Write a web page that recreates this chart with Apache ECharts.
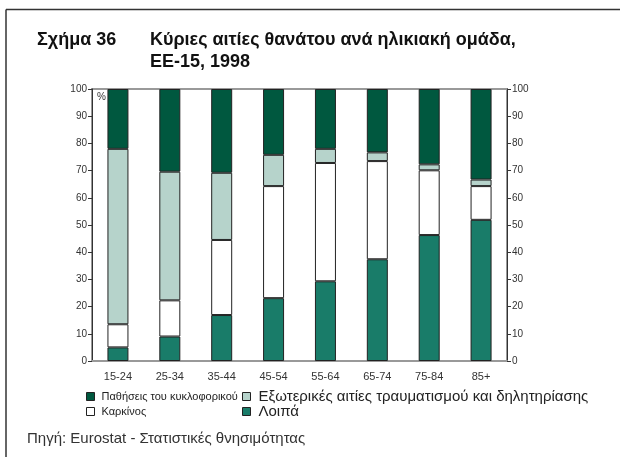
<!DOCTYPE html>
<html>
<head>
<meta charset="utf-8">
<script src="https://cdn.jsdelivr.net/npm/echarts@6/dist/echarts.min.js"></script>
<style>
  html, body { margin: 0; padding: 0; background: #fff; }
  #chart { width: 620px; height: 457px; }
</style>
</head>
<body>
<div id="chart"></div>
<script>
// Age groups on the category axis
const categories = ['15-24', '25-34', '35-44', '45-54', '55-64', '65-74', '75-84', '85+'];

// Share of deaths (%) per cause, stacked from the bottom up
const other       = [5.0, 9.0, 16.9, 23.1, 29.3, 37.4, 46.3, 51.9];   // Λοιπά
const cancer      = [8.5, 13.3, 27.6, 41.2, 43.5, 36.1, 23.8, 12.4];  // Καρκίνος
const external    = [64.5, 47.3, 24.7, 11.5, 5.2, 3.2, 2.2, 2.4];     // Εξωτερικές αιτίες
const circulatory = [22.0, 30.4, 30.8, 24.2, 22.0, 23.3, 27.7, 33.3]; // Παθήσεις του κυκλοφορικού

const names = {
  circ: 'Παθήσεις του κυκλοφορικού',
  ext: 'Εξωτερικές αιτίες τραυματισμού και δηλητηρίασης',
  cancer: 'Καρκίνος',
  other: 'Λοιπά'
};

const narrow = '"Liberation Sans Narrow", "Arial Narrow", "Liberation Sans", sans-serif';
const sans = '"Liberation Sans", Arial, sans-serif';

const chart = echarts.init(document.getElementById('chart'), null, { renderer: 'canvas' });

function yAxis(position) {
  return {
    type: 'value',
    position: position,
    min: 0,
    max: 100,
    interval: 10,
    axisLine: { show: true, lineStyle: { color: '#333', width: 1 } },
    axisTick: { show: true, inside: false, length: 4, lineStyle: { color: '#333' } },
    axisLabel: { fontFamily: sans, fontSize: 10, color: '#333', margin: 5 },
    splitLine: { show: false }
  };
}

function barSeries(name, data, color) {
  return {
    name: name,
    type: 'bar',
    stack: 'total',
    barWidth: 21,
    data: data,
    itemStyle: { color: color, borderColor: '#222', borderWidth: 1 },
    emphasis: { disabled: true }
  };
}

function legendColumn(left, data, family, size, gap) {
  return {
    orient: 'vertical',
    left: left,
    top: 389,
    padding: 0,
    itemWidth: 8,
    itemHeight: 8,
    itemGap: 0,
    icon: 'rect',
    selectedMode: false,
    data: data,
    itemStyle: { borderColor: '#222', borderWidth: 1 },
    textStyle: { fontFamily: family, fontSize: size, lineHeight: 15, color: '#222', padding: [0, 0, 0, gap] }
  };
}

chart.setOption({
  animation: false,
  backgroundColor: '#fff',
  grid: {
    left: 92, right: 113, top: 89, bottom: 96,
    show: true, borderColor: '#999', borderWidth: 2, backgroundColor: 'transparent'
  },
  xAxis: {
    type: 'category',
    data: categories,
    axisLine: { lineStyle: { color: '#999', width: 2 } },
    axisTick: { show: false },
    axisLabel: { fontFamily: narrow, fontSize: 11, color: '#333', margin: 10 }
  },
  yAxis: [yAxis('left'), yAxis('right')],
  legend: [
    legendColumn(86, [names.circ, names.cancer], narrow, 11, 2),
    legendColumn(242, [names.ext, names.other], sans, 15, 3)
  ],
  series: [
    barSeries(names.other, other, '#197c69'),
    barSeries(names.cancer, cancer, '#ffffff'),
    barSeries(names.ext, external, '#b6d3cb'),
    barSeries(names.circ, circulatory, '#00583f')
  ],
  graphic: [
    // frame lines along the top and left of the figure
    { type: 'line', shape: { x1: 6, y1: 9.5, x2: 620, y2: 9.5 }, style: { stroke: '#333', lineWidth: 1.5 } },
    { type: 'line', shape: { x1: 6, y1: 9.5, x2: 6, y2: 457 }, style: { stroke: '#333', lineWidth: 1.5 } },
    { type: 'text', left: 37, top: 31, style: { text: 'Σχήμα 36', font: 'bold 18px ' + sans, fill: '#111' } },
    { type: 'text', left: 150, top: 31, style: { text: 'Κύριες αιτίες θανάτου ανά ηλικιακή ομάδα,', font: 'bold 18px ' + sans, fill: '#111' } },
    { type: 'text', left: 150, top: 53, style: { text: 'ΕΕ-15, 1998', font: 'bold 18px ' + sans, fill: '#111' } },
    { type: 'text', left: 97, top: 92, style: { text: '%', font: '10px ' + sans, fill: '#333' } },
    { type: 'text', left: 27, top: 431, style: { text: 'Πηγή: Eurostat - Στατιστικές θνησιμότητας', font: '15px ' + sans, fill: '#333' } }
  ]
});
</script>
</body>
</html>
